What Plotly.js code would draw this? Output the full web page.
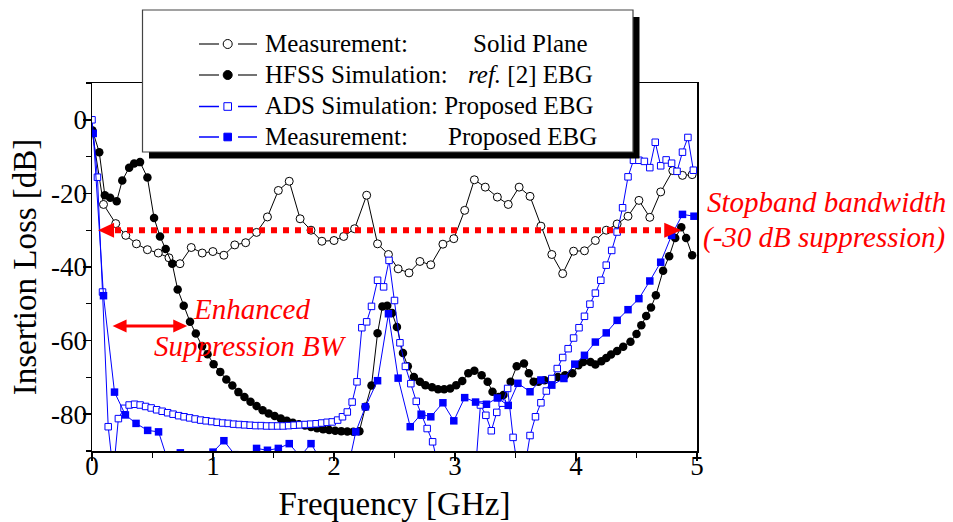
<!DOCTYPE html>
<html><head><meta charset="utf-8">
<script src="https://cdn.plot.ly/plotly-3.0.1.min.js"></script>
<style>html,body{margin:0;padding:0;background:#fff;} #chart{width:953px;height:522px;}</style>
</head><body><div id="chart"></div>
<script>
// ---- data ----
const freqSolid = [0, 0.095, 0.196, 0.279, 0.367, 0.458, 0.548, 0.636, 0.727, 0.820, 0.911, 0.999, 1.09, 1.18, 1.27, 1.36, 1.45, 1.54, 1.63, 1.72, 1.81, 1.90, 2.00, 2.08, 2.17, 2.27, 2.36, 2.45, 2.53, 2.62, 2.71, 2.80, 2.90, 2.99, 3.08, 3.16, 3.25, 3.35, 3.44, 3.53, 3.62, 3.71, 3.80, 3.89, 3.98, 4.07, 4.16, 4.25, 4.34, 4.43, 4.52, 4.61, 4.70, 4.80, 4.88, 4.96];
const lossSolid = [-3, -23.0, -28.2, -31.4, -33.7, -35.3, -36.2, -37.5, -39.1, -34.7, -36.2, -35.8, -36.8, -34.0, -33.4, -30.6, -26.4, -19.2, -16.7, -26.9, -30.0, -33.0, -32.8, -31.7, -29.6, -20.5, -33.7, -36.6, -40.5, -41.6, -38.5, -39.4, -33.8, -32.3, -24.6, -16.3, -18.3, -21.0, -23.0, -18.3, -20.8, -28.9, -36.6, -41.8, -35.7, -35.6, -32.8, -30.0, -28.3, -26.2, -21.9, -26.5, -19.6, -13.8, -15.1, -14.9];

const freqHFSS = [0.004, 0.06, 0.106, 0.15, 0.204, 0.25, 0.307, 0.348, 0.397, 0.458, 0.513, 0.562, 0.609, 0.663, 0.708, 0.758, 0.81, 0.858, 0.91, 0.955, 1.005, 1.06, 1.11, 1.16, 1.21, 1.26, 1.31, 1.36, 1.41, 1.46, 1.51, 1.56, 1.61, 1.66, 1.71, 1.76, 1.81, 1.86, 1.91, 1.96, 2.01, 2.06, 2.11, 2.16, 2.21, 2.26, 2.31, 2.36, 2.40, 2.44, 2.48, 2.52, 2.57, 2.61, 2.66, 2.71, 2.755, 2.81, 2.86, 2.91, 2.96, 3.01, 3.06, 3.11, 3.16, 3.22, 3.27, 3.31, 3.36, 3.40, 3.46, 3.51, 3.57, 3.61, 3.65, 3.69, 3.74, 3.80, 3.85, 3.91, 3.97, 4.02, 4.06, 4.12, 4.16, 4.21, 4.25, 4.29, 4.34, 4.39, 4.45, 4.50, 4.54, 4.58, 4.62, 4.66, 4.72, 4.77, 4.82, 4.87, 4.91, 4.96];
const lossHFSS = [-2.9, -8.8, -20.5, -21.2, -22.1, -16.5, -13.0, -11.9, -11.5, -15.7, -26.7, -31.7, -35.1, -39.1, -46.1, -50.5, -54.9, -58.1, -61.5, -63.7, -66.4, -68.5, -70.6, -72.2, -74.0, -75.3, -76.6, -77.8, -78.9, -79.8, -80.5, -81.2, -81.8, -82.3, -82.7, -83.1, -83.5, -83.8, -84.1, -84.3, -84.5, -84.6, -84.7, -84.8, -84.6, -78.0, -72.2, -58.0, -50.7, -50.5, -52.5, -56.3, -63.4, -67.0, -69.9, -71.2, -72.1, -72.7, -73.2, -73.2, -73.0, -72.1, -71.0, -68.9, -68.2, -69.4, -71.2, -73.9, -75.3, -74.8, -71.2, -67.0, -66.2, -68.9, -71.2, -71.2, -70.8, -70.6, -69.9, -69.4, -68.9, -66.7, -65.8, -65.8, -66.5, -65.6, -64.7, -63.8, -62.8, -61.7, -60.3, -58.2, -55.8, -53.3, -51.0, -47.7, -41.0, -37.1, -32.1, -29.2, -32.1, -36.8];

const freqADS = [0, 0.045, 0.087, 0.134, 0.176, 0.218, 0.265, 0.307, 0.352, 0.398, 0.443, 0.489, 0.534, 0.58, 0.625, 0.67, 0.716, 0.761, 0.807, 0.852, 0.898, 0.943, 0.989, 1.034, 1.08, 1.125, 1.17, 1.216, 1.261, 1.307, 1.352, 1.398, 1.443, 1.489, 1.534, 1.58, 1.625, 1.67, 1.716, 1.761, 1.807, 1.852, 1.898, 1.943, 1.985, 2.03, 2.07, 2.11, 2.15, 2.19, 2.23, 2.27, 2.31, 2.36, 2.41, 2.455, 2.50, 2.545, 2.59, 2.635, 2.68, 2.725, 2.77, 2.815, 2.86, 2.905, 2.95, 3.0, 3.045, 3.09, 3.135, 3.17, 3.21, 3.255, 3.30, 3.345, 3.39, 3.435, 3.48, 3.525, 3.57, 3.62, 3.665, 3.71, 3.755, 3.80, 3.845, 3.89, 3.935, 3.98, 4.025, 4.07, 4.115, 4.16, 4.205, 4.25, 4.295, 4.34, 4.385, 4.43, 4.475, 4.52, 4.565, 4.61, 4.655, 4.70, 4.745, 4.79, 4.835, 4.88, 4.925, 4.97];
const lossADS = [0, -15.6, -46.8, -83.4, -96, -81.2, -78.4, -77.5, -77.3, -77.5, -77.9, -78.3, -78.8, -79.2, -79.6, -80.0, -80.4, -80.7, -81.0, -81.3, -81.6, -81.8, -82.0, -82.2, -82.4, -82.5, -82.7, -82.8, -82.9, -83.0, -83.1, -83.1, -83.2, -83.2, -83.2, -83.2, -83.1, -83.0, -82.9, -82.8, -82.7, -82.6, -82.4, -82.2, -82.1, -81.6, -80.7, -79.4, -76.7, -71.2, -56.5, -54.9, -50.7, -43.6, -45.4, -38.2, -49.1, -60.6, -67.0, -71.7, -76.5, -80.3, -83.9, -87.5, -94, -100, -104, -105, -104, -102, -99, -95, -77.5, -80.3, -84.5, -79.5, -77.0, -73.0, -86.3, -96, -96, -85.8, -80.7, -76.9, -73.7, -70.3, -67.6, -64.6, -62.2, -59.3, -56.5, -53.4, -50.1, -47.1, -43.6, -39.5, -35.5, -30.5, -23.9, -15.5, -11.0, -11.0, -11.3, -13.0, -6.1, -12.5, -10.9, -11.8, -14.0, -8.8, -4.8, -13.7];

const freqMeas = [0.01, 0.095, 0.186, 0.276, 0.364, 0.46, 0.55, 0.64, 0.73, 0.82, 0.91, 1.0, 1.09, 1.18, 1.27, 1.36, 1.45, 1.54, 1.63, 1.72, 1.81, 1.90, 1.99, 2.08, 2.18, 2.26, 2.36, 2.45, 2.53, 2.63, 2.72, 2.80, 2.90, 2.99, 3.08, 3.17, 3.26, 3.35, 3.44, 3.52, 3.62, 3.71, 3.80, 3.90, 3.99, 4.07, 4.16, 4.25, 4.34, 4.43, 4.52, 4.61, 4.70, 4.79, 4.88, 4.975];
const lossMeas = [-3.7, -47.8, -74.0, -80.2, -82.5, -84.4, -84.8, -94, -90.5, -91.5, -91.5, -90.3, -87.2, -91, -92, -89.3, -89.8, -89.3, -88.0, -91.5, -88.0, -93, -100, -100, -84.8, -78.0, -70.9, -52.7, -70.2, -83.4, -80.0, -80.7, -76.9, -81.8, -75.5, -76.7, -77.3, -75.6, -77.6, -71.6, -73.9, -70.7, -72.1, -70.3, -66.4, -64.0, -60.4, -57.9, -54.5, -51.6, -48.6, -43.8, -38.7, -31.4, -25.7, -26.2];

const xTickVals = [0, 1, 2, 3, 4, 5];
const xTickText = ['0', '1', '2', '3', '4', '5'];
const yTickVals = [0, -20, -40, -60, -80];
const yTickText = ['0', '-20', '-40', '-60', '-80'];

const legendLeft = ['Measurement:', 'HFSS Simulation:', 'ADS Simulation: Proposed EBG', 'Measurement:'];
const legendRight = ['Solid Plane', '<i>ref.</i> [2] EBG', '', 'Proposed EBG'];
const stopbandLevel = -30;
const enhancedLevel = -56;

// ---- layout helpers ----
const W = 953, H = 522, M = {l: 92, r: 256, t: 83, b: 71};
const PW = W - M.l - M.r, PH = H - M.t - M.b;
const px = v => (v - M.l) / PW;
const py = v => (H - M.b - v) / PH;
const FONT = 'Liberation Serif, Times New Roman, serif';
const BLUE = '#0000ff', RED = '#ff0000';

const traces = [
  {x: freqSolid, y: lossSolid, mode: 'lines+markers', name: 'Measurement: Solid Plane',
   line: {color: '#000', width: 1},
   marker: {symbol: 'circle', size: 8, color: '#fff', line: {color: '#000', width: 1}}},
  {x: freqHFSS, y: lossHFSS, mode: 'lines+markers', name: 'HFSS Simulation: ref. [2] EBG',
   line: {color: '#000', width: 1},
   marker: {symbol: 'circle', size: 8.5, color: '#000'}},
  {x: freqADS, y: lossADS, mode: 'lines+markers', name: 'ADS Simulation: Proposed EBG',
   line: {color: BLUE, width: 1},
   marker: {symbol: 'square', size: 6.5, color: '#fff', line: {color: BLUE, width: 1}}},
  {x: freqMeas, y: lossMeas, mode: 'lines+markers', name: 'Measurement: Proposed EBG',
   line: {color: BLUE, width: 1},
   marker: {symbol: 'square', size: 7.5, color: BLUE}}
];

const shapes = [];
const annotations = [];

// dotted stopband arrow
shapes.push({type: 'line', xref: 'x', yref: 'y', x0: 0.19, x1: 4.73, y0: stopbandLevel, y1: stopbandLevel,
  line: {color: RED, width: 6, dash: 'dot'}, layer: 'above'});
shapes.push({type: 'path', xref: 'x', yref: 'y', xsizemode: 'pixel', ysizemode: 'pixel',
  xanchor: 0.05, yanchor: stopbandLevel, path: 'M0,0 L16,7.5 L16,-7.5 Z', fillcolor: RED, line: {width: 0}, layer: 'above'});
shapes.push({type: 'path', xref: 'x', yref: 'y', xsizemode: 'pixel', ysizemode: 'pixel',
  xanchor: 4.87, yanchor: stopbandLevel, path: 'M0,0 L-17,7.5 L-17,-7.5 Z', fillcolor: RED, line: {width: 0}, layer: 'above'});
// enhanced suppression double arrow
shapes.push({type: 'line', xref: 'x', yref: 'y', x0: 0.25, x1: 0.71, y0: enhancedLevel, y1: enhancedLevel,
  line: {color: RED, width: 3}, layer: 'above'});
shapes.push({type: 'path', xref: 'x', yref: 'y', xsizemode: 'pixel', ysizemode: 'pixel',
  xanchor: 0.17, yanchor: enhancedLevel, path: 'M0,0 L14,6.5 L14,-6.5 Z', fillcolor: RED, line: {width: 0}, layer: 'above'});
shapes.push({type: 'path', xref: 'x', yref: 'y', xsizemode: 'pixel', ysizemode: 'pixel',
  xanchor: 0.787, yanchor: enhancedLevel, path: 'M0,0 L-14,6.5 L-14,-6.5 Z', fillcolor: RED, line: {width: 0}, layer: 'above'});

// legend box with shadow
shapes.push({type: 'rect', xref: 'paper', yref: 'paper', x0: px(149), x1: px(639.5), y0: py(158.5), y1: py(17),
  fillcolor: '#000', line: {width: 0}, layer: 'above'});
shapes.push({type: 'rect', xref: 'paper', yref: 'paper', x0: px(142.5), x1: px(633), y0: py(152), y1: py(10),
  fillcolor: '#fff', line: {color: '#444', width: 1.2}, layer: 'above'});

const rowY = [44, 75, 106.5, 137];
const textY = [43.3, 74.4, 105.5, 136.6];
const symColor = ['#444', '#444', BLUE, BLUE];
const symFill = ['#fff', '#000', '#fff', BLUE];
const symEdge = ['#000', '#000', BLUE, BLUE];
const symShape = ['circle', 'circle', 'rect', 'rect'];
const col2X = [471, 466, null, 446];
for (let i = 0; i < 4; i++) {
  const y = rowY[i];
  shapes.push({type: 'line', xref: 'paper', yref: 'paper', x0: px(199), x1: px(219), y0: py(y), y1: py(y),
    line: {color: symColor[i], width: 1.5}, layer: 'above'});
  shapes.push({type: 'line', xref: 'paper', yref: 'paper', x0: px(238), x1: px(257), y0: py(y), y1: py(y),
    line: {color: symColor[i], width: 1.5}, layer: 'above'});
  const r = symShape[i] === 'circle' ? 4.5 : 3.8;
  shapes.push({type: symShape[i], xref: 'paper', yref: 'paper', x0: px(227.7 - r), x1: px(227.7 + r),
    y0: py(y + r), y1: py(y - r), fillcolor: symFill[i], line: {color: symEdge[i], width: 1}, layer: 'above'});
  annotations.push({xref: 'paper', yref: 'paper', x: px(263), y: py(textY[i]), xanchor: 'left', yanchor: 'middle',
    text: legendLeft[i], showarrow: false, font: {family: FONT, size: 25, color: '#000'}});
  if (legendRight[i]) {
    annotations.push({xref: 'paper', yref: 'paper', x: px(col2X[i]), y: py(textY[i]), xanchor: 'left', yanchor: 'middle',
      text: legendRight[i], showarrow: false, font: {family: FONT, size: 25, color: '#000'}});
  }
}

// red notes
const noteFont = {family: FONT, size: 29, color: RED};
annotations.push({xref: 'paper', yref: 'paper', x: px(826), y: py(201.5), xanchor: 'center', yanchor: 'middle',
  text: '<i>Stopband bandwidth</i>', showarrow: false, font: noteFont});
annotations.push({xref: 'paper', yref: 'paper', x: px(824), y: py(237), xanchor: 'center', yanchor: 'middle',
  text: '<i>(-30 dB suppression)</i>', showarrow: false, font: noteFont});
annotations.push({xref: 'paper', yref: 'paper', x: px(251.5), y: py(308.5), xanchor: 'center', yanchor: 'middle',
  text: '<i>Enhanced</i>', showarrow: false, font: noteFont});
annotations.push({xref: 'paper', yref: 'paper', x: px(250.5), y: py(345.5), xanchor: 'center', yanchor: 'middle',
  text: '<i>Suppression BW</i>', showarrow: false, font: noteFont});

const axisCommon = {
  showgrid: false, zeroline: false, showline: true, linecolor: '#000', linewidth: 1.5, mirror: true,
  ticks: 'outside', ticklen: 8, tickwidth: 1.5, tickcolor: '#000',
  tickfont: {family: FONT, size: 27, color: '#000'}
};

const layout = {
  width: W, height: H, margin: M, showlegend: false,
  paper_bgcolor: '#fff', plot_bgcolor: '#fff',
  font: {family: FONT, color: '#000'},
  xaxis: Object.assign({}, axisCommon, {
    range: [0, 5], tickmode: 'array', tickvals: xTickVals, ticktext: xTickText,
    ticklabelstandoff: -18,
    minor: {tickmode: 'linear', tick0: 0, dtick: 0.5, ticks: 'outside', ticklen: 5, tickwidth: 1.2, tickcolor: '#000', showgrid: false},
    title: {text: 'Frequency [GHz]', font: {family: FONT, size: 33, color: '#000'}, standoff: 28}
  }),
  yaxis: Object.assign({}, axisCommon, {
    range: [-90, 10], tickmode: 'array', tickvals: yTickVals, ticktext: yTickText,
    ticklabelstandoff: -10,
    minor: {tickmode: 'linear', tick0: 0, dtick: 10, ticks: 'outside', ticklen: 5, tickwidth: 1.2, tickcolor: '#000', showgrid: false},
    title: {text: 'Insertion Loss [dB]', font: {family: FONT, size: 33, color: '#000'}, standoff: 4}
  }),
  shapes: shapes,
  annotations: annotations
};

Plotly.newPlot('chart', traces, layout, {displayModeBar: false, staticPlot: true});
</script>
</body></html>
